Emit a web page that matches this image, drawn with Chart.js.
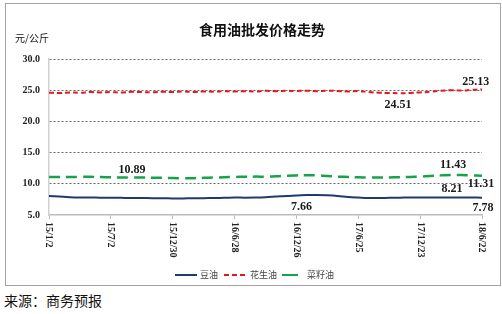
<!DOCTYPE html>
<html>
<head>
<meta charset="utf-8">
<script src="https://cdn.jsdelivr.net/npm/chart.js@4.4.0/dist/chart.umd.min.js"></script>
<style>
  body { margin: 0; background: #fff; width: 502px; height: 314px; position: relative; overflow: hidden; }
  .frame { position: absolute; left: 5px; top: 3px; width: 494px; height: 281px; border: 1px solid #a3a3a3; }
  .source { position: absolute; left: 4px; top: 290px; font: 14px "Noto Sans CJK SC", sans-serif; color: #111; }
</style>
</head>
<body>
<div class="frame"><canvas id="oilChart" width="494" height="281"></canvas></div>
<div class="source">来源：商务预报</div>
<script>
// Wholesale edible oil prices, yuan/kg, sampled about every 30 days
const tickLabels = ['15/1/2', '15/7/2', '15/12/30', '16/6/28', '16/12/26', '17/6/25', '17/12/23', '18/6/22'];
const seriesNames = ['豆油', '花生油', '菜籽油'];

const soyOil = [8.05, 7.95, 7.85, 7.80, 7.80, 7.78, 7.78, 7.75, 7.72, 7.72, 7.70, 7.68, 7.66, 7.66, 7.68,
  7.70, 7.72, 7.75, 7.80, 7.78, 7.80, 7.85, 7.95, 8.05, 8.12, 8.20, 8.21, 8.15, 8.05, 7.90,
  7.80, 7.72, 7.72, 7.75, 7.78, 7.80, 7.80, 7.82, 7.82, 7.80, 7.82, 7.80, 7.78];

const peanutOil = [24.60, 24.55, 24.65, 24.60, 24.70, 24.65, 24.70, 24.62, 24.75, 24.70, 24.68, 24.75, 24.70, 24.80, 24.72,
  24.80, 24.75, 24.85, 24.80, 24.85, 24.80, 24.90, 24.85, 24.90, 24.88, 24.92, 24.85, 24.90, 24.88, 24.80,
  24.85, 24.70, 24.60, 24.55, 24.51, 24.55, 24.65, 24.75, 24.90, 25.00, 24.95, 25.05, 25.13];

const rapeOil = [11.10, 11.10, 11.08, 11.10, 11.12, 11.08, 11.05, 11.00, 11.02, 11.00, 10.98, 10.95, 10.92, 10.89, 10.90,
  10.95, 11.00, 11.05, 11.10, 11.12, 11.15, 11.15, 11.20, 11.30, 11.35, 11.38, 11.35, 11.25, 11.15, 11.10,
  11.05, 11.00, 11.00, 11.02, 11.05, 11.10, 11.15, 11.25, 11.35, 11.43, 11.40, 11.35, 11.31];

// annotated values and where their text sits (x in sample index, y in yuan)
const noteTexts = ['10.89', '24.51', '25.13', '11.43', '8.21', '11.31', '7.66', '7.78'];
const noteX = [8.05, 33.85, 41.4, 39.2, 39.1, 41.9, 24.5, 42.1];
const noteY = [12.2, 22.7, 26.3, 13.0, 9.2, 10.0, 6.3, 6.15];

const colors = ['#1f3a6e', '#e3171d', '#17a34a'];
const dashes = [[], [5, 3], [11, 6]];

const toPoints = arr => arr.map((v, i) => ({ x: i, y: v }));

const drawExtras = {
  id: 'drawExtras',
  afterDraw(chart) {
    const ctx = chart.ctx;
    const xs = chart.scales.x;
    const ys = chart.scales.y;
    ctx.save();

    // title and unit
    ctx.fillStyle = '#111';
    ctx.textAlign = 'center';
    ctx.textBaseline = 'middle';
    ctx.font = 'bold 14px "Noto Sans CJK SC", sans-serif';
    ctx.fillText('食用油批发价格走势', 256, 26);
    ctx.textAlign = 'left';
    ctx.font = '10px "Noto Sans CJK SC", serif';
    ctx.fillText('元/公斤', 9, 34);

    // rotated x labels, reading top to bottom
    ctx.font = 'bold 10px "Liberation Serif", serif';
    ctx.fillStyle = '#222';
    tickLabels.forEach((lab, k) => {
      const px = xs.getPixelForValue(k * 6);
      ctx.save();
      ctx.translate(px, chart.chartArea.bottom + 7);
      ctx.rotate(Math.PI / 2);
      ctx.textAlign = 'left';
      ctx.textBaseline = 'middle';
      ctx.fillText(lab, 0, 0);
      ctx.restore();
    });

    // value notes
    ctx.font = 'bold 12px "Liberation Serif", serif';
    ctx.fillStyle = '#1a1a1a';
    ctx.textAlign = 'center';
    ctx.textBaseline = 'middle';
    noteTexts.forEach((t, k) => {
      ctx.fillText(t, xs.getPixelForValue(noteX[k]), ys.getPixelForValue(noteY[k]));
    });

    // legend
    const lx = [169, 218, 276];
    const lw = [22, 23, 16];
    const ly = 271;
    ctx.font = '9px "Noto Sans CJK SC", sans-serif';
    ctx.textAlign = 'left';
    seriesNames.forEach((name, k) => {
      ctx.beginPath();
      ctx.strokeStyle = colors[k];
      ctx.lineWidth = 2;
      ctx.setLineDash(k === 1 ? [5, 3] : []);
      ctx.moveTo(lx[k], ly);
      ctx.lineTo(lx[k] + lw[k], ly);
      ctx.stroke();
      ctx.setLineDash([]);
      ctx.fillStyle = '#444';
      ctx.fillText(name, lx[k] + lw[k] + (k === 2 ? 9 : 3), ly);
    });

    ctx.restore();
  }
};

new Chart(document.getElementById('oilChart'), {
  type: 'line',
  data: {
    datasets: [soyOil, peanutOil, rapeOil].map((arr, k) => ({
      label: seriesNames[k],
      data: toPoints(arr),
      borderColor: colors[k],
      borderWidth: k === 2 ? 2.5 : 2,
      borderDash: dashes[k],
      pointRadius: 0,
      tension: 0.4,
      fill: false
    }))
  },
  options: {
    responsive: false,
    animation: false,
    layout: { padding: { top: 55, right: 18, bottom: 0, left: 0 } },
    plugins: { legend: { display: false }, tooltip: { enabled: false }, title: { display: false } },
    scales: {
      x: {
        type: 'linear',
        min: 0,
        max: 42,
        afterBuildTicks: s => { s.ticks = tickLabels.map((_, k) => ({ value: k * 6 })); },
        afterFit: s => { s.height = 70; },
        ticks: { display: false },
        grid: { drawOnChartArea: false, drawTicks: true, tickLength: 4, color: '#bbbbbb' },
        border: { display: true, color: '#bbbbbb', width: 1.5 }
      },
      y: {
        min: 5,
        max: 30,
        afterFit: s => { s.width = 43; },
        ticks: {
          stepSize: 5,
          padding: 9,
          color: '#222',
          font: { family: '"Liberation Serif", serif', size: 10, weight: 'bold' },
          callback: v => v.toFixed(1)
        },
        grid: {
          drawTicks: false,
          lineWidth: 1,
          color: c => (c.tick && c.tick.value === 5 ? 'rgba(0,0,0,0)' : '#666666')
        },
        border: { display: true, color: '#d0d0d0', width: 1.5, dash: [2, 2] }
      }
    }
  },
  plugins: [drawExtras]
});
</script>
</body>
</html>
